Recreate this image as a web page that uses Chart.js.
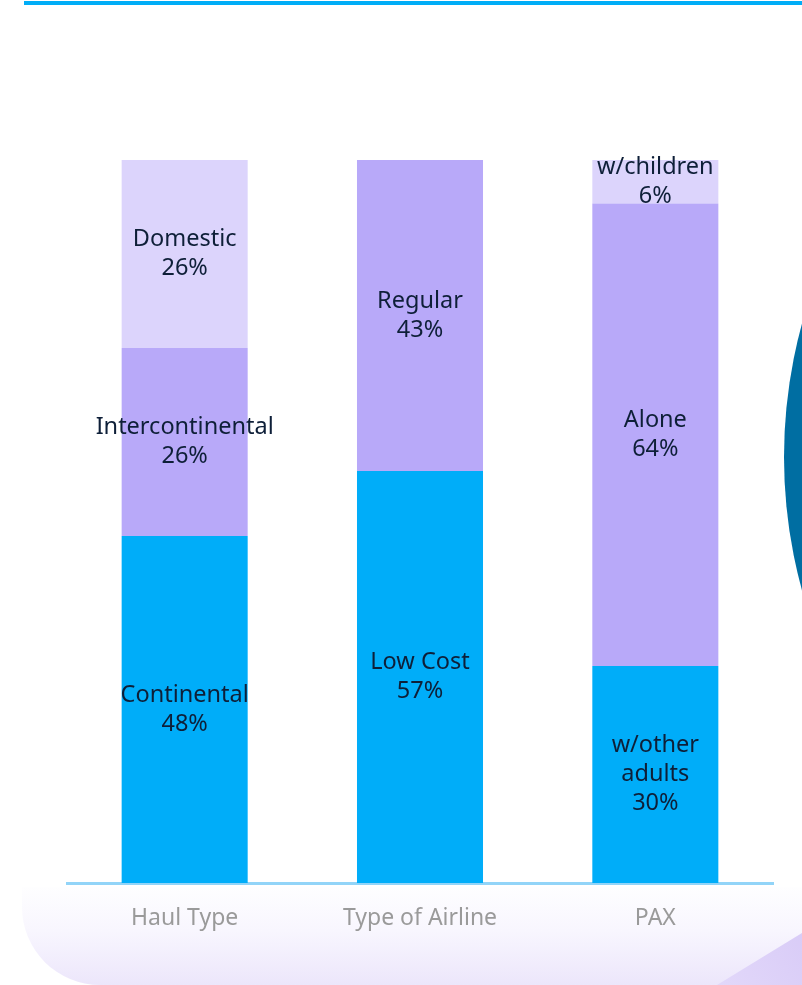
<!DOCTYPE html>
<html>
<head>
<meta charset="utf-8">
<script src="https://cdn.jsdelivr.net/npm/chart.js@4.4.1/dist/chart.umd.min.js"></script>
<style>
  html, body { margin: 0; padding: 0; background: #ffffff; overflow: hidden; }
  canvas { display: block; }
</style>
</head>
<body>
<canvas id="mix" width="802" height="985"></canvas>
<script>
// Share of trips per breakdown (each column sums to 100 %)
const categories = ['Haul Type', 'Type of Airline', 'PAX'];
const lowerValues = [48, 57, 30];
const middleValues = [26, 43, 64];
const upperValues = [26, null, 6];
const lowerNames = ['Continental', 'Low Cost', ['w/other', 'adults']];
const middleNames = ['Intercontinental', 'Regular', 'Alone'];
const upperNames = ['Domestic', null, 'w/children'];

const BLUE = '#00adf9';
const PURPLE = '#b8a9f9';
const LILAC = '#dcd4fc';
const INK = '#0e1f38';
const LABEL_FONT = '23.5px "Noto Sans", sans-serif';

// Page furniture drawn behind the bars: header rule, soft footer panel, corner shapes
const backdrop = {
  id: 'backdrop',
  beforeDraw(chart) {
    const ctx = chart.ctx;
    const W = chart.width, H = chart.height;
    ctx.save();

    // footer panel with rounded bottom-left corner
    const r = 78, left = 22, top = 887;
    const g = ctx.createLinearGradient(0, top, 0, H);
    g.addColorStop(0, '#fefeff');
    g.addColorStop(0.45, '#f8f6fe');
    g.addColorStop(1, '#ece6fb');
    ctx.fillStyle = g;
    ctx.beginPath();
    ctx.moveTo(left, top);
    ctx.lineTo(left, H - r);
    ctx.arcTo(left, H, left + r, H, r);
    ctx.lineTo(W, H);
    ctx.lineTo(W, top);
    ctx.closePath();
    ctx.fill();

    // lilac wedge in the bottom-right corner
    const tg = ctx.createLinearGradient(717, H, W, 933);
    tg.addColorStop(0, '#e2d8fa');
    tg.addColorStop(1, '#d9ccf7');
    ctx.fillStyle = tg;
    ctx.beginPath();
    ctx.moveTo(717, H);
    ctx.lineTo(W, 933);
    ctx.lineTo(W, H);
    ctx.closePath();
    ctx.fill();

    // large dark-blue disc peeking in from the right edge
    ctx.fillStyle = '#006ea2';
    ctx.beginPath();
    ctx.arc(1288, 457, 504, 0, Math.PI * 2);
    ctx.fill();

    // header rule
    ctx.fillStyle = '#00adf7';
    ctx.fillRect(24, 1, W - 24, 4);

    ctx.restore();
  }
};

// Name + percentage written inside each stacked segment
const segmentLabels = {
  id: 'segmentLabels',
  afterDatasetsDraw(chart) {
    const ctx = chart.ctx;
    ctx.save();
    ctx.font = LABEL_FONT;
    ctx.fillStyle = INK;
    ctx.textAlign = 'center';
    ctx.textBaseline = 'middle';
    const lineH = 29;
    chart.data.datasets.forEach((ds, di) => {
      const meta = chart.getDatasetMeta(di);
      meta.data.forEach((bar, i) => {
        const v = ds.data[i];
        if (v == null || !ds.names[i]) return;
        const { x, y, base } = bar.getProps(['x', 'y', 'base'], true);
        const nameLines = Array.isArray(ds.names[i]) ? ds.names[i] : [ds.names[i]];
        const lines = nameLines.concat([v + '%']);
        const cy = (y + base) / 2;
        const start = cy - (lines.length - 1) * lineH / 2;
        lines.forEach((t, k) => ctx.fillText(t, x, start + k * lineH));
      });
    });
    ctx.restore();
  }
};

new Chart(document.getElementById('mix'), {
  type: 'bar',
  data: {
    labels: categories,
    datasets: [
      { data: lowerValues, names: lowerNames, backgroundColor: BLUE },
      { data: middleValues, names: middleNames, backgroundColor: PURPLE },
      { data: upperValues, names: upperNames, backgroundColor: LILAC }
    ]
  },
  options: {
    responsive: false,
    animation: false,
    events: [],
    layout: { padding: { top: 160, left: 67, right: 29, bottom: 0 } },
    datasets: {
      bar: { categoryPercentage: 1, barPercentage: 0.5355, borderWidth: 0 }
    },
    plugins: {
      legend: { display: false },
      tooltip: { enabled: false },
      title: { display: false }
    },
    scales: {
      x: {
        stacked: true,
        afterFit(scale) { scale.height = 102; },
        grid: { display: true, color: 'rgba(0,0,0,0)', drawTicks: false, drawOnChartArea: false },
        border: { display: true, color: '#92d4f8', width: 3 },
        ticks: {
          color: '#9a9a9a',
          padding: 22,
          font: { family: '"Noto Sans", sans-serif', size: 23 }
        }
      },
      y: {
        stacked: true,
        display: false,
        min: 0,
        max: 100
      }
    }
  },
  plugins: [backdrop, segmentLabels]
});
</script>
</body>
</html>
